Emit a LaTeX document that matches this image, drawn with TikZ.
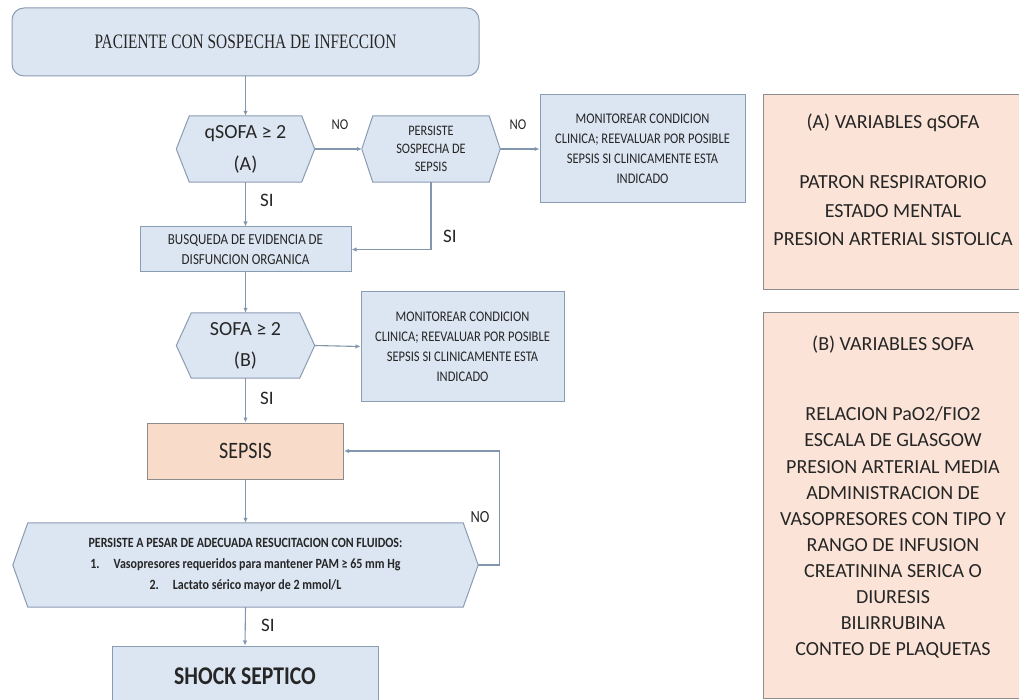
\documentclass[tikz,border=0pt]{standalone}
\usepackage{fontspec}
\setmainfont{Carlito}
\newfontfamily\cond[FakeStretch=0.85]{Carlito}
\newfontfamily\sercond[FakeStretch=0.75]{Liberation Serif}
\usetikzlibrary{arrows.meta,backgrounds,calc}
\definecolor{bfill}{HTML}{DCE6F2}
\definecolor{bline}{HTML}{8A9CB2}
\definecolor{sfill}{HTML}{FBE4D7}
\definecolor{sepfill}{HTML}{F9DBC9}
\definecolor{pline}{HTML}{8C8C8C}
\definecolor{txt}{HTML}{262626}
\definecolor{connc}{HTML}{8297AD}
\tikzset{
  box/.style={draw=bline, fill=bfill, line width=1pt, inner sep=0pt, align=center, text=txt},
  sepbox/.style={box, draw=pline, fill=sepfill},
  hexbox/.style={inner sep=0pt, align=center, text=txt},
  hexline/.style={draw=bline, fill=bfill, line width=1pt},
  panel/.style={draw=pline, fill=sfill, line width=1pt, inner sep=0pt},
  ptext/.style={inner sep=0pt, align=center, text=txt, anchor=north},
  conn/.style={draw=connc, line width=1.1pt, -{Latex[length=5pt,width=4.5pt]}},
  lbl/.style={inner sep=0pt, text=txt},
}
\newcommand\hexoutline[2]{%
  \path[hexline] (#1.west) -- ($(#1.north west)+(#2,0)$) -- ($(#1.north east)+(-#2,0)$)
    -- (#1.east) -- ($(#1.south east)+(-#2,0)$) -- ($(#1.south west)+(#2,0)$) -- cycle;}
\begin{document}
\begin{tikzpicture}[x=1pt,y=-1pt]
\begin{scope}[on background layer]
  \fill[white] (0,0) rectangle (1019,700);
\end{scope}
\useasboundingbox (0,0) rectangle (1019,700);
\clip (0,0) rectangle (1019,700);

% main column
\node[box, rounded corners=12pt, minimum width=467pt, minimum height=68pt,
      font=\sercond\fontsize{20.5}{24}\selectfont] (top) at (245.5,42) {PACIENTE CON SOSPECHA DE INFECCION};
\node[hexbox, minimum width=138pt, minimum height=66pt, font=\fontsize{20}{32}\selectfont] (q) at (245.5,149) {qSOFA ≥ 2\\(A)};
\node[hexbox, minimum width=138pt, minimum height=66pt, font=\cond\fontsize{14.5}{18}\selectfont] (ps) at (431,149) {PERSISTE\\SOSPECHA DE\\SEPSIS};
\node[box, minimum width=205pt, minimum height=108pt, font=\cond\fontsize{14.7}{20}\selectfont] (mon1) at (642.5,149)
  {MONITOREAR CONDICION\\CLINICA; REEVALUAR POR POSIBLE\\SEPSIS SI CLINICAMENTE ESTA\\INDICADO};
\node[box, minimum width=211pt, minimum height=45pt, font=\cond\fontsize{15.3}{19.5}\selectfont] (bus) at (245.5,249.5)
  {BUSQUEDA DE EVIDENCIA DE\\DISFUNCION ORGANICA};
\node[hexbox, minimum width=138pt, minimum height=65pt, font=\fontsize{20}{31}\selectfont] (sofa) at (245.5,345.5) {SOFA ≥ 2\\(B)};
\node[box, minimum width=203pt, minimum height=109pt, font=\cond\fontsize{14.7}{20}\selectfont] (mon2) at (462.5,346.5)
  {MONITOREAR CONDICION\\CLINICA; REEVALUAR POR POSIBLE\\SEPSIS SI CLINICAMENTE ESTA\\INDICADO};
\node[sepbox, minimum width=196pt, minimum height=56pt, font=\cond\fontsize{23.5}{28}\selectfont] (sep) at (245.5,451) {SEPSIS};
\node[hexbox, minimum width=465pt, minimum height=84pt, font=\cond\bfseries\fontsize{14.1}{21}\selectfont] (pers) at (245.5,565)
  {PERSISTE A PESAR DE ADECUADA RESUCITACION CON FLUIDOS:\\
   1.\hspace{14pt}Vasopresores requeridos para mantener PAM ≥ 65 mm Hg\\
   2.\hspace{14pt}Lactato sérico mayor de 2 mmol/L};
\node[box, minimum width=266pt, minimum height=60pt, font=\cond\bfseries\fontsize{25.5}{30}\selectfont] (shock) at (245,676) {SHOCK SEPTICO};

\begin{scope}[on background layer]
  \hexoutline{q}{13}
  \hexoutline{ps}{11}
  \hexoutline{sofa}{15}
  \hexoutline{pers}{15}
\end{scope}

% right panels
\node[panel, minimum width=262pt, minimum height=195pt] (pa) at (894,192.5) {};
\node[ptext, font=\fontsize{20}{28.5}\selectfont] (pat) at (893,114)
  {(A) VARIABLES qSOFA\\[31.5pt]PATRON RESPIRATORIO\\ESTADO MENTAL\\PRESION ARTERIAL SISTOLICA};
\node[panel, minimum width=262pt, minimum height=385pt] (pb) at (894,505.5) {};
\node[ptext, font=\fontsize{20}{26.1}\selectfont] (pbt) at (893,336)
  {(B) VARIABLES SOFA\\[43.9pt]RELACION PaO2/FIO2\\ESCALA DE GLASGOW\\PRESION ARTERIAL MEDIA\\ADMINISTRACION DE\\VASOPRESORES CON TIPO Y\\RANGO DE INFUSION\\CREATININA SERICA O\\DIURESIS\\BILIRRUBINA\\CONTEO DE PLAQUETAS};

% connectors
\draw[conn] (top.south) -- (q.north);
\draw[conn] (q.east) -- (ps.west);
\draw[conn] (ps.east) -- (mon1.west);
\draw[conn] (q.south) -- (bus.north);
\draw[conn] (ps.south) |- (bus.east);
\draw[conn] (bus.south) -- (sofa.north);
\draw[conn] (sofa.east) -- (mon2.west);
\draw[conn] (sofa.south) -- (sep.north);
\draw[conn] (sep.south) -- (pers.north);
\draw[conn] (pers.east) -- ++(21,0) |- (sep.east);
\draw[conn] (pers.south) -- (shock.north);

% labels
\node[lbl, font=\cond\fontsize{15}{17}\selectfont] (no1) at (340,125) {NO};
\node[lbl, font=\cond\fontsize{15}{17}\selectfont] (no2) at (518,125) {NO};
\node[lbl, font=\cond\fontsize{17}{20}\selectfont] (no3) at (480,517) {NO};
\node[lbl, font=\fontsize{19}{22}\selectfont] (si1) at (267,200) {SI};
\node[lbl, font=\fontsize{19}{22}\selectfont] (si2) at (450,236) {SI};
\node[lbl, font=\fontsize{19}{22}\selectfont] (si3) at (267,398) {SI};
\node[lbl, font=\fontsize{19}{22}\selectfont] (si4) at (268,625) {SI};
\end{tikzpicture}
\end{document}
